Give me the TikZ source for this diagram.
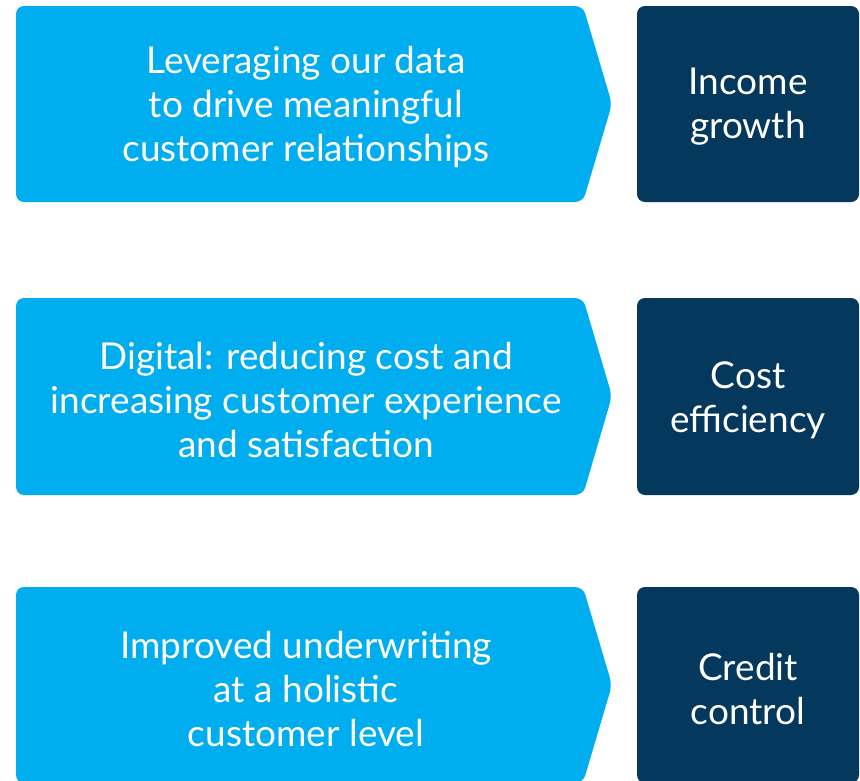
\documentclass[tikz,border=0pt]{standalone}
\usepackage{fontspec}
\setmainfont{Lato}
\definecolor{strategyblue}{RGB}{0,174,239}
\definecolor{targetnavy}{RGB}{4,56,92}

\begin{document}
\begin{tikzpicture}[x=1pt,y=-1pt,
	chevron/.style={fill=strategyblue,rounded corners=8pt},
	targetbox/.style={fill=targetnavy,rounded corners=8pt},
	lbl/.style={text=white,align=center,inner sep=0pt,font=\fontsize{37}{44}\selectfont}]
	\useasboundingbox (0,0) rectangle (860,780);
	
	\fill[chevron]  (16,6) -- (583,6) -- (612,104) -- (583,202) -- (16,202) -- cycle;
	\fill[targetbox]  (637,6) rectangle (859,202);
	\node[lbl] (data) at (306,107) {Leveraging our data\\to drive meaningful\\customer relationships};
	\node[lbl] (income) at (748,107) {Income\\growth};
	
	\fill[chevron]  (16,298) -- (583,298) -- (612,396) -- (583,495) -- (16,495) -- cycle;
	\fill[targetbox]  (637,298) rectangle (859,495);
	\node[lbl] (digital) at (306,400) {Digital: reducing cost and\\increasing customer experience\\and satisfaction};
	\node[lbl] (cost) at (748,400) {Cost\\efficiency};
	
	\fill[chevron]  (16,587) -- (583,587) -- (612,685) -- (583,783) -- (16,783) -- cycle;
	\fill[targetbox]  (637,587) rectangle (859,783);
	\node[lbl] (underwriting) at (306,689) {Improved underwriting\\at a holistic\\customer level};
	\node[lbl] (credit) at (748,689) {Credit\\control};
\end{tikzpicture}
\end{document}
